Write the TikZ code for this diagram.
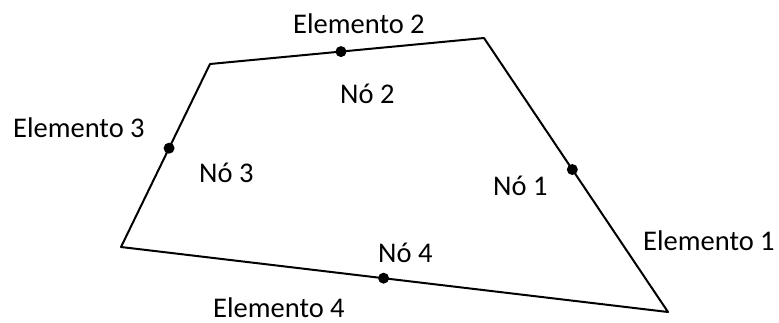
\documentclass[tikz,border=0pt]{standalone}
\usepackage{fontspec}
\setmainfont{Carlito}
\usetikzlibrary{calc}
\begin{document}
\begin{tikzpicture}[x=1pt,y=-1pt,
  lbl/.style={anchor=base west,inner sep=0pt,font=\fontsize{28.5}{32}\selectfont},
  nodedot/.style={circle,fill=black,inner sep=0pt,minimum size=11pt},
  edge/.style={line width=2pt,line join=round}]
\useasboundingbox (0,0) rectangle (779,322);
\coordinate (v1) at (210,64);
\coordinate (v2) at (484,38);
\coordinate (v3) at (668,312);
\coordinate (v4) at (121,247);
\draw[edge] (v1) -- (v2) -- (v3) -- (v4) -- cycle;
\node[nodedot] (d2) at ($(v1)!0.478!(v2)$) {};
\node[nodedot] (d3) at ($(v4)!0.54!(v1)$) {};
\node[nodedot] (d1) at ($(v2)!0.48!(v3)$) {};
\node[nodedot] (d4) at ($(v4)!0.48!(v3)$) {};
\node[lbl] (e2) at (293,33) {Elemento 2};
\node[lbl] (n2) at (340,103) {Nó 2};
\node[lbl] (e3) at (13,137) {Elemento 3};
\node[lbl] (n3) at (199,182) {Nó 3};
\node[lbl] (n1) at (493,195) {Nó 1};
\node[lbl] (e1) at (643,250) {Elemento 1};
\node[lbl] (n4) at (378,262) {Nó 4};
\node[lbl] (e4) at (213,317) {Elemento 4};
\end{tikzpicture}
\end{document}
